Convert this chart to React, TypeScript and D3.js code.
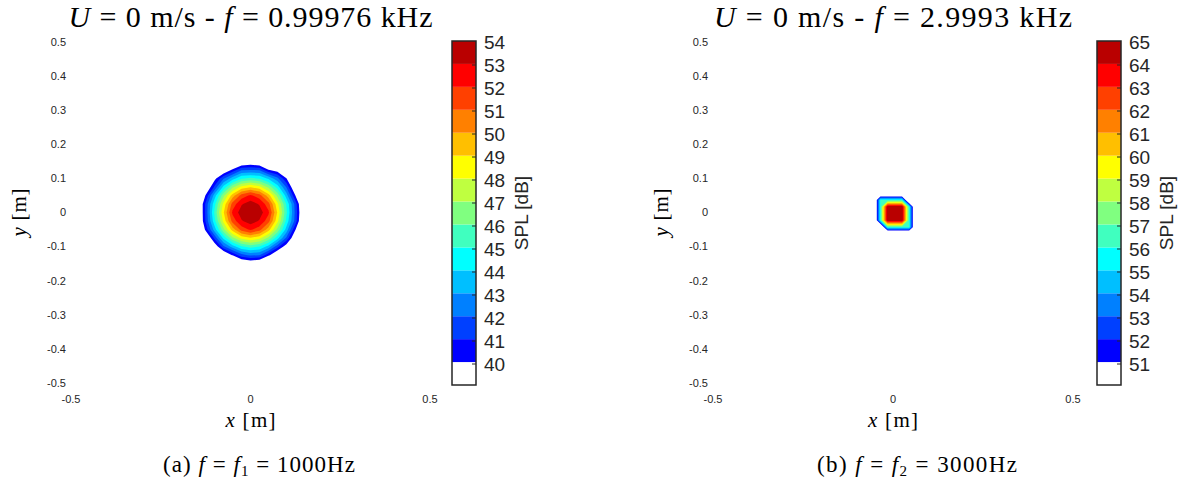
import React from 'react';
import * as d3 from 'd3';

// jet(16) without the darkest blue, ascending
const jetColors = ['#0000ff', '#0040ff', '#0080ff', '#00bfff', '#00ffff', '#40ffbf', '#80ff80', '#bfff40', '#ffff00', '#ffbf00', '#ff8000', '#ff4000', '#ff0000', '#b90000'];

const levels1 = [40, 41, 42, 43, 44, 45, 46, 47, 48, 49, 50, 51, 52, 53];
const levels2 = [51, 52, 53, 54, 55, 56, 57, 58, 59, 60, 61, 62, 63, 64];
const cbLabels1 = [54, 53, 52, 51, 50, 49, 48, 47, 46, 45, 44, 43, 42, 41, 40];
const cbLabels2 = [65, 64, 63, 62, 61, 60, 59, 58, 57, 56, 55, 54, 53, 52, 51];

const yTicks = [0.5, 0.4, 0.3, 0.2, 0.1, 0, -0.1, -0.2, -0.3, -0.4, -0.5];
const yTickLabels = ['0.5', '0.4', '0.3', '0.2', '0.1', '0', '-0.1', '-0.2', '-0.3', '-0.4', '-0.5'];
const xTicks = [-0.5, 0, 0.5];
const xTickLabels = ['-0.5', '0', '0.5'];

// map 1 : f = 1000 Hz, grid of SPL values [dB]
const gridX1 = [-0.15, -0.125, -0.1, -0.075, -0.05, -0.025, 0, 0.025, 0.05, 0.075, 0.1, 0.125, 0.15];
const gridY1 = [0.15, 0.125, 0.1, 0.075, 0.05, 0.025, 0, -0.025, -0.05, -0.075, -0.1, -0.125, -0.15];
const spl1 = [
  [28.6, 31.1, 33.3, 35.2, 36.6, 38.2, 38.6, 38.3, 36.6, 35.2, 33.3, 31.1, 28.6],
  [31.1, 33.8, 36.3, 38.6, 40.3, 41.9, 42.0, 41.9, 40.1, 39.4, 36.3, 33.8, 31.1],
  [33.3, 36.3, 39.6, 41.9, 43.5, 44.9, 45.2, 44.9, 43.8, 42.3, 40.1, 36.3, 33.3],
  [35.2, 38.5, 41.2, 44.3, 46.7, 48.3, 48.9, 48.3, 46.7, 44.5, 41.9, 38.4, 35.2],
  [36.6, 40.1, 43.5, 46.7, 49.5, 51.4, 52.2, 51.4, 49.5, 46.7, 43.5, 40.0, 36.6],
  [37.5, 41.2, 44.7, 48.3, 51.4, 52.9, 53.5, 52.9, 51.4, 48.3, 44.9, 41.6, 37.5],
  [37.5, 41.2, 45.2, 48.9, 52.2, 53.5, 54.2, 53.5, 52.2, 48.9, 45.2, 41.7, 37.9],
  [37.5, 41.1, 44.7, 48.3, 51.4, 52.9, 53.5, 52.9, 51.4, 48.3, 44.7, 41.6, 37.5],
  [36.6, 40.3, 43.5, 46.7, 49.5, 51.4, 52.2, 51.4, 49.5, 46.7, 43.6, 40.1, 36.6],
  [35.2, 38.2, 41.3, 44.3, 46.7, 48.3, 48.9, 48.3, 46.7, 44.4, 41.8, 38.6, 35.2],
  [33.3, 36.3, 39.0, 41.8, 43.5, 44.9, 45.4, 45.0, 43.6, 41.4, 39.3, 36.3, 33.3],
  [31.1, 33.8, 36.3, 38.4, 40.1, 41.6, 42.2, 42.0, 40.3, 38.4, 36.3, 33.8, 31.1],
  [28.6, 31.1, 33.3, 35.2, 36.6, 38.2, 38.7, 38.4, 36.6, 35.2, 33.3, 31.1, 28.6],
];

// map 2 : f = 3000 Hz
const gridX2 = [-0.055, -0.035, -0.015, 0.005, 0.025, 0.045, 0.065];
const gridY2 = [0.057, 0.037, 0.017, -0.003, -0.023, -0.043, -0.063];
const spl2 = [
  [46, 46, 46, 46, 46, 46, 46],
  [46, 56, 56, 56, 56, 46, 46],
  [46, 56, 65, 65, 65, 56, 46],
  [46, 56, 65, 65.4, 65, 56, 46],
  [46, 56, 65, 65, 65, 56, 46],
  [46, 46, 56, 56, 56, 56, 46],
  [46, 46, 46, 46, 46, 46, 46],
];

const SANS = "'Liberation Sans', Arial, sans-serif";
const SERIF = "'Liberation Serif', 'Times New Roman', serif";
const TXT = '#262626';

type PanelProps = {
  gridX: number[]; gridY: number[]; spl: number[][]; levels: number[]; cbLabels: number[];
  x0: number; x1: number; cbX: number; title: string; titleLen: number; caption: string; capX: number; capLen: number; sub: string; tag: string;
};

function Panel(p: PanelProps) {
  const sx = d3.scaleLinear().domain([-0.5, 0.5]).range([p.x0, p.x1]);
  const sy = d3.scaleLinear().domain([-0.5, 0.5]).range([383, 42]);
  const n = p.gridX.length, m = p.gridY.length;
  const fx = d3.scaleLinear().domain([0.5, n - 0.5]).range([p.gridX[0], p.gridX[n - 1]]);
  const fy = d3.scaleLinear().domain([0.5, m - 0.5]).range([p.gridY[0], p.gridY[m - 1]]);
  const values = p.spl.flat();
  const contours = d3.contours().size([n, m]).thresholds(p.levels)(values);
  const tr = d3.geoTransform({
    point(x: number, y: number) { (this as any).stream.point(sx(fx(x)), sy(fy(y))); },
  });
  const path = d3.geoPath(tr as any);
  const cb = d3.scaleLinear().domain([0, 15]).range([385, 41]);
  const cbText = d3.scaleLinear().domain([0, 14]).range([42, 364]);
  const cx = (p.x0 + p.x1) / 2;
  const cbColors = ['#ffffff', ...jetColors];
  return (
    <g>
      {contours.map((c, i) => (
        <path key={i} d={path(c as any) || ''} fill={jetColors[i]} stroke="none" />
      ))}
      {yTicks.map((t, i) => (
        <text key={'y' + i} x={p.x0 - 5} y={sy(t)} dy="0.35em" textAnchor="end" fontFamily={SANS} fontSize={11} fill={TXT}>{yTickLabels[i]}</text>
      ))}
      {xTicks.map((t, i) => (
        <text key={'x' + i} x={sx(t)} y={399} dy="0.35em" textAnchor="middle" fontFamily={SANS} fontSize={11} fill={TXT}>{xTickLabels[i]}</text>
      ))}
      <text x={cx} y={427} textAnchor="middle" fontFamily={SERIF} fontSize={21} fill="#000" textLength={50}>
        <tspan fontStyle="italic">x</tspan>{' [m]'}
      </text>
      <text transform={`translate(${p.x0 - 45},${sy(0)}) rotate(-90)`} textAnchor="middle" fontFamily={SERIF} fontSize={21} fill="#000" textLength={48}>
        <tspan fontStyle="italic">y</tspan>{' [m]'}
      </text>
      <text x={cx} y={27} textAnchor="middle" fontFamily={SERIF} fontSize={30} fill="#000" textLength={p.titleLen} lengthAdjust="spacing">
        <tspan fontStyle="italic">U</tspan>{' = 0 m/s - '}<tspan fontStyle="italic">f</tspan>{' = ' + p.title + ' kHz'}
      </text>
      {cbColors.map((c, k) => (
        <rect key={'cb' + k} x={p.cbX} y={cb(k + 1)} width={24} height={cb(k) - cb(k + 1)} fill={c} stroke="none" />
      ))}
      {p.cbLabels.map((v, k) => (
        k > 0 ? <line key={'ct' + k} x1={p.cbX + 24} x2={p.cbX + 20} y1={cbText(k)} y2={cbText(k)} stroke="#262626" strokeWidth={1} /> : null
      ))}
      <rect x={p.cbX} y={41} width={24} height={344} fill="none" stroke="#262626" strokeWidth={1.5} />
      {p.cbLabels.map((v, k) => (
        <text key={'cl' + k} x={p.cbX + 32} y={cbText(k)} dy="0.35em" fontFamily={SANS} fontSize={19} fill={TXT}>{v}</text>
      ))}
      <text transform={`translate(${p.cbX + 76},${213}) rotate(-90)`} textAnchor="middle" fontFamily={SANS} fontSize={19} fill={TXT}>SPL [dB]</text>
      <text x={p.capX} y={472} textAnchor="middle" fontFamily={SERIF} fontSize={23} fill="#000" textLength={p.capLen} lengthAdjust="spacing">
        {'(' + p.tag + ') '}<tspan fontStyle="italic">f</tspan>{' = '}<tspan fontStyle="italic">f</tspan><tspan fontSize={15} dy={4}>{p.sub}</tspan><tspan dy={-4}>{' = ' + p.caption + 'Hz'}</tspan>
      </text>
    </g>
  );
}

export default function App() {
  return (
    <svg width={1189} height={482} style={{ position: 'absolute', left: 0, top: 0, background: '#fff' }}>
      <rect width={1189} height={482} fill="#fff" />
      <Panel gridX={gridX1} gridY={gridY1} spl={spl1} levels={levels1} cbLabels={cbLabels1}
        x0={71} x1={430} cbX={452} title="0.99976" titleLen={364} caption="1000" capX={259} capLen={192} sub="1" tag="a" />
      <Panel gridX={gridX2} gridY={gridY2} spl={spl2} levels={levels2} cbLabels={cbLabels2}
        x0={713} x1={1073} cbX={1097} title="2.9993" titleLen={358} caption="3000" capX={917} capLen={200} sub="2" tag="b" />
    </svg>
  );
}
